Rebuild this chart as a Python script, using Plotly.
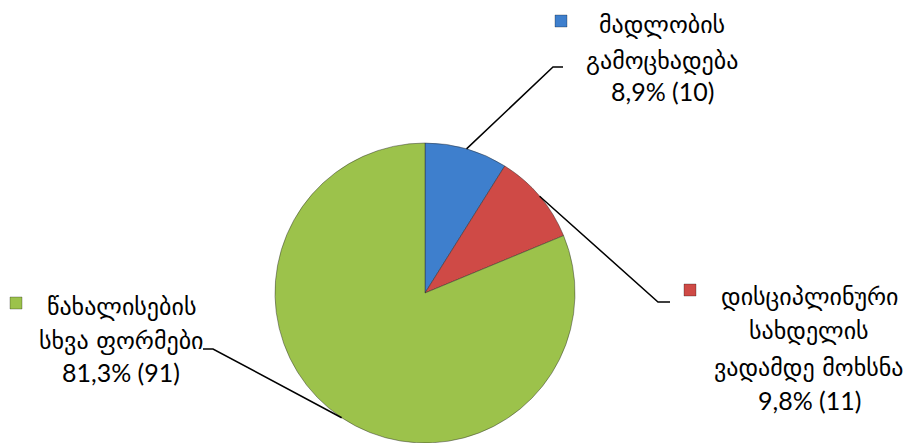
import math
import plotly.graph_objects as go

# ---- data ----
categories = ["მადლობის გამოცხადება", "დისციპლინური სახდელის ვადამდე მოხსნა", "წახალისების სხვა ფორმები"]
counts = [10, 11, 91]
percent_labels = ["8,9% (10)", "9,8% (11)", "81,3% (91)"]
label_lines = [
    ["მადლობის", "გამოცხადება"],
    ["დისციპლინური", "სახდელის", "ვადამდე მოხსნა"],
    ["წახალისების", "სხვა ფორმები"],
]
colors = ["#3E7FCD", "#CF4A46", "#9CC24B"]

# ---- layout constants ----
OFF = 8                     # page body margin offset
W, H = 914 - OFF, 443 - OFF
MT = 135
PH = H - MT
CX, CY, R = 425, OFF + MT + PH / 2, PH / 2   # page coordinates


def px(x):  # page x -> paper
    return (x - OFF) / W


def py(y):  # page y -> paper
    return (H - (y - OFF)) / PH


fig = go.Figure(go.Pie(
    labels=categories, values=counts, sort=False, direction="clockwise", rotation=0,
    marker=dict(colors=colors, line=dict(color="rgba(40,40,40,0.45)", width=1)),
    textinfo="none", hoverinfo="label+value+percent",
    domain=dict(x=[px(CX) - 0.25, px(CX) + 0.25], y=[0, 1]),
    showlegend=False,
))

label_pos = [
    dict(cx=662, ys=[25, 61], py=91, mk=(555, 15), elbow=(553, 67), end=(563, 67)),
    dict(cx=809, ys=[297, 331, 368], py=400, mk=(684, 284), elbow=(658, 302), end=(670, 302)),
    dict(cx=121, ys=[307, 341], py=372, mk=(10, 297), elbow=(213, 349), end=(203, 349)),
]

total = sum(counts)
cum = 0
shapes = []
annotations = []
for i, v in enumerate(counts):
    mid = (cum + v / 2) / total * 2 * math.pi
    cum += v
    ex, ey = CX + R * math.sin(mid), CY - R * math.cos(mid)
    lp = label_pos[i]
    shapes.append(dict(
        type="path", xref="paper", yref="paper",
        path=f"M {px(ex)},{py(ey)} L {px(lp['elbow'][0])},{py(lp['elbow'][1])} L {px(lp['end'][0])},{py(lp['end'][1])}",
        line=dict(color="black", width=1.5),
    ))
    mx, my = lp["mk"]
    shapes.append(dict(
        type="rect", xref="paper", yref="paper",
        x0=px(mx), x1=px(mx + 12), y0=py(my + 12), y1=py(my),
        fillcolor=colors[i], line=dict(color="rgba(0,0,0,0.35)", width=0.8),
    ))
    for line_text, yy in zip(label_lines[i], lp["ys"]):
        annotations.append(dict(
            text=line_text, x=px(lp["cx"]), y=py(yy), xref="paper", yref="paper",
            xanchor="center", yanchor="middle", showarrow=False,
            font=dict(family="DejaVu Sans", size=24, color="black"),
        ))
    annotations.append(dict(
        text=percent_labels[i], x=px(lp["cx"]), y=py(lp["py"]), xref="paper", yref="paper",
        xanchor="center", yanchor="middle", showarrow=False,
        font=dict(family="Lato, DejaVu Sans", size=25, color="black"),
    ))

fig.update_layout(
    width=W, height=H,
    margin=dict(l=0, r=0, t=MT, b=0),
    paper_bgcolor="white", plot_bgcolor="white",
    shapes=shapes, annotations=annotations,
)

fig.write_html("out.html")
